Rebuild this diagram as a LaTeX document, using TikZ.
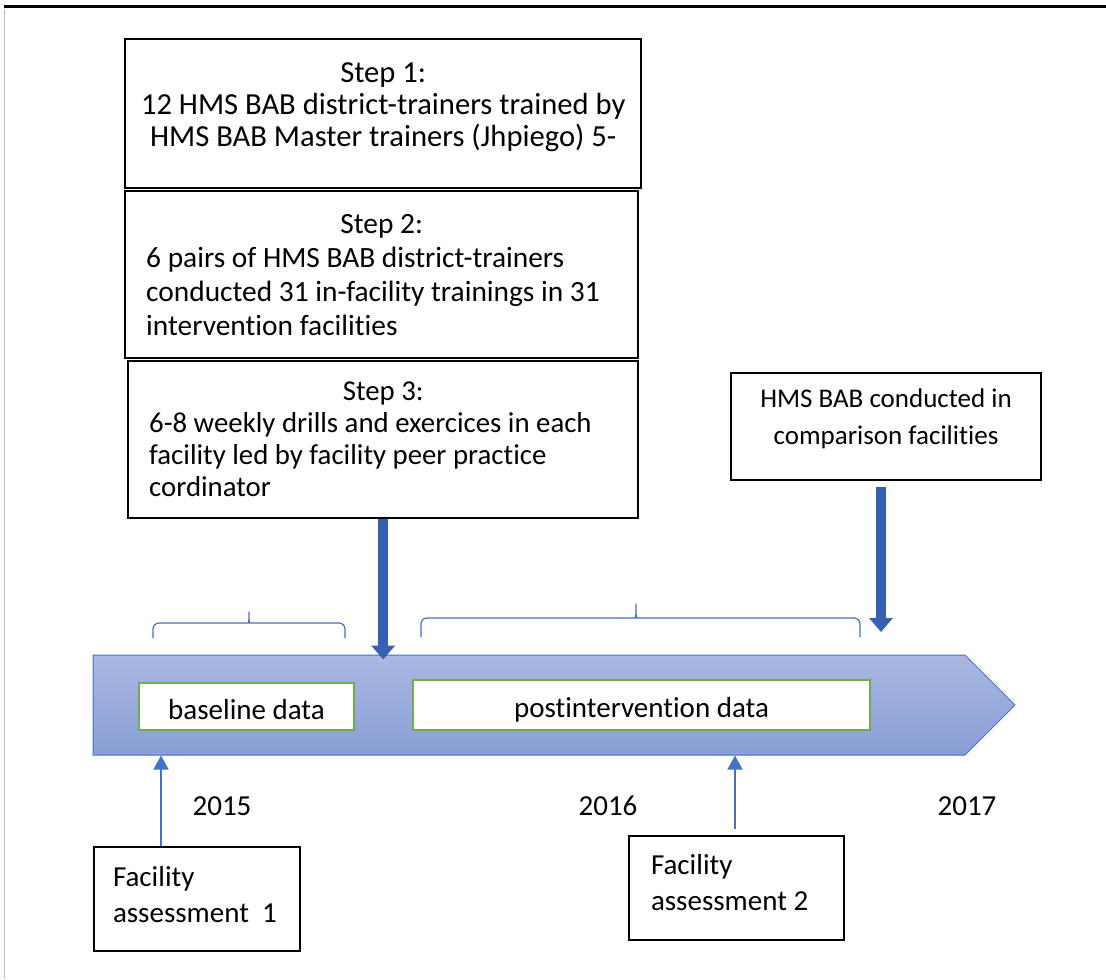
\documentclass[tikz,border=0pt]{standalone}
\usepackage{fontspec}
\setmainfont{Carlito}[Ligatures=NoCommon]
\usetikzlibrary{arrows.meta,shapes.arrows}

\definecolor{msblue}{RGB}{68,114,196}
\definecolor{darkblue}{RGB}{56,96,178}
\definecolor{msgreen}{RGB}{112,173,71}
\definecolor{bandtop}{RGB}{170,183,225}
\definecolor{bandbot}{RGB}{136,159,214}

\tikzset{
  stepbox/.style={draw, line width=1.2pt, anchor=north west, inner sep=0pt},
  infobox/.style={draw, line width=1pt, anchor=north west, inner sep=0pt, font=\fontsize{14.5}{18}\selectfont},
  databox/.style={draw=msgreen, line width=1.2pt, fill=white, inner sep=0pt, text height=12.5pt, text depth=0pt,
    font=\fontsize{14.5}{18}\selectfont},
  yearlabel/.style={font=\fontsize{14.5}{18}\selectfont},
  blockarrow/.style={darkblue, line width=5pt, -{Triangle[width=11.5pt,length=7pt]}},
  thinarrow/.style={msblue, line width=0.75pt, -{Triangle[width=7.5pt,length=7pt]}},
  bracket/.style={msblue, line width=0.6pt, rounded corners=3pt}
}

\begin{document}
\begin{tikzpicture}[x=0.5pt,y=-0.5pt]
    \useasboundingbox (0,0) rectangle (1106,979);
    \draw[line width=1.5pt] (4,7) -- (1106,7);
    \draw[black!25, line width=0.5pt] (4.5,9) -- (4.5,979);

    % the three training steps
    \node[stepbox, font=\fontsize{15.3}{16}\selectfont, minimum width=258pt, minimum height=74.5pt,
        align=center] (s1) at (124,38)
        {Step 1:\\12 HMS BAB district-trainers trained by\\HMS BAB Master trainers (Jhpiego) 5-\\[-7pt]\mbox{}};
    \node[stepbox, font=\fontsize{14.7}{17}\selectfont, minimum width=256.5pt, minimum height=83.5pt,
        text width=235.5pt, align=flush left] (s2) at (124,190)
        {{\centering Step 2:\par}6 pairs of HMS BAB district-trainers\\conducted 31 in-facility trainings in 31\\intervention facilities};
    \node[stepbox, font=\fontsize{14.4}{16}\selectfont, minimum width=255pt, minimum height=78.5pt,
        text width=234pt, align=flush left] (s3) at (127,360)
        {{\centering Step 3:\par}6-8 weekly drills and exercices in each\\facility led by facility peer practice\\cordinator};
    \node[infobox, font=\fontsize{13.5}{18.5}\selectfont, minimum width=155pt, minimum height=53.5pt,
        align=center] (cmp) at (730,372) {HMS BAB conducted in\\comparison facilities\\[-9pt]\mbox{}};

    % timeline
    \node[single arrow, single arrow head extend=0pt, single arrow tip angle=90, minimum width=50pt,
        minimum height=461pt, inner sep=0pt, draw=msblue, line width=0.5pt,
        top color=bandtop, bottom color=bandbot] (tl) at (529,705) {};
    \node[databox, minimum width=107.5pt, minimum height=23.5pt] (base) at (246.5,706.5) {baseline data};
    \node[databox, minimum width=228.5pt, minimum height=25pt] (post) at (641.5,705) {postintervention data};

    \draw[bracket] (153,638) -- (153,623) -- (244,623) .. controls (249,623) and (249,618) .. (249,608)
        .. controls (249,618) and (249,623) .. (254,623) -- (345,623) -- (345,638);
    \draw[bracket] (421,637) -- (421,618) -- (631,618) .. controls (636,618) and (636,612) .. (636,600)
        .. controls (636,612) and (636,618) .. (641,618) -- (860,618) -- (860,637);

    \coordinate (cmpend) at (881,632);
    \draw[blockarrow, shorten >=-2.5pt] (s3.south) -- (s3.south |- tl.north);
    \draw[blockarrow, shorten <=3pt] (cmp.south -| cmpend) -- (cmpend);

    % assessments
    \node[infobox, minimum width=103pt, minimum height=52pt, text width=84pt, align=flush left] (fa1) at (93,846)
        {Facility\\assessment~~1\\[-13pt]\mbox{}};
    \node[infobox, minimum width=107.5pt, minimum height=52pt, text width=85.5pt, align=flush left] (fa2) at (628,835)
        {Facility\\assessment 2\\[-12pt]\mbox{}};
    \coordinate (fa1top) at (161,846);
    \coordinate (fa2top) at (735,829);
    \draw[thinarrow] (fa1.north -| fa1top) -- (fa1top |- tl.south);
    \draw[thinarrow] (fa2top) -- (fa2top |- tl.south);

    \node[yearlabel] (y2015) at (222,806) {2015};
    \node[yearlabel] (y2016) at (608,806) {2016};
    \node[yearlabel] (y2017) at (967,806) {2017};
\end{tikzpicture}
\end{document}
